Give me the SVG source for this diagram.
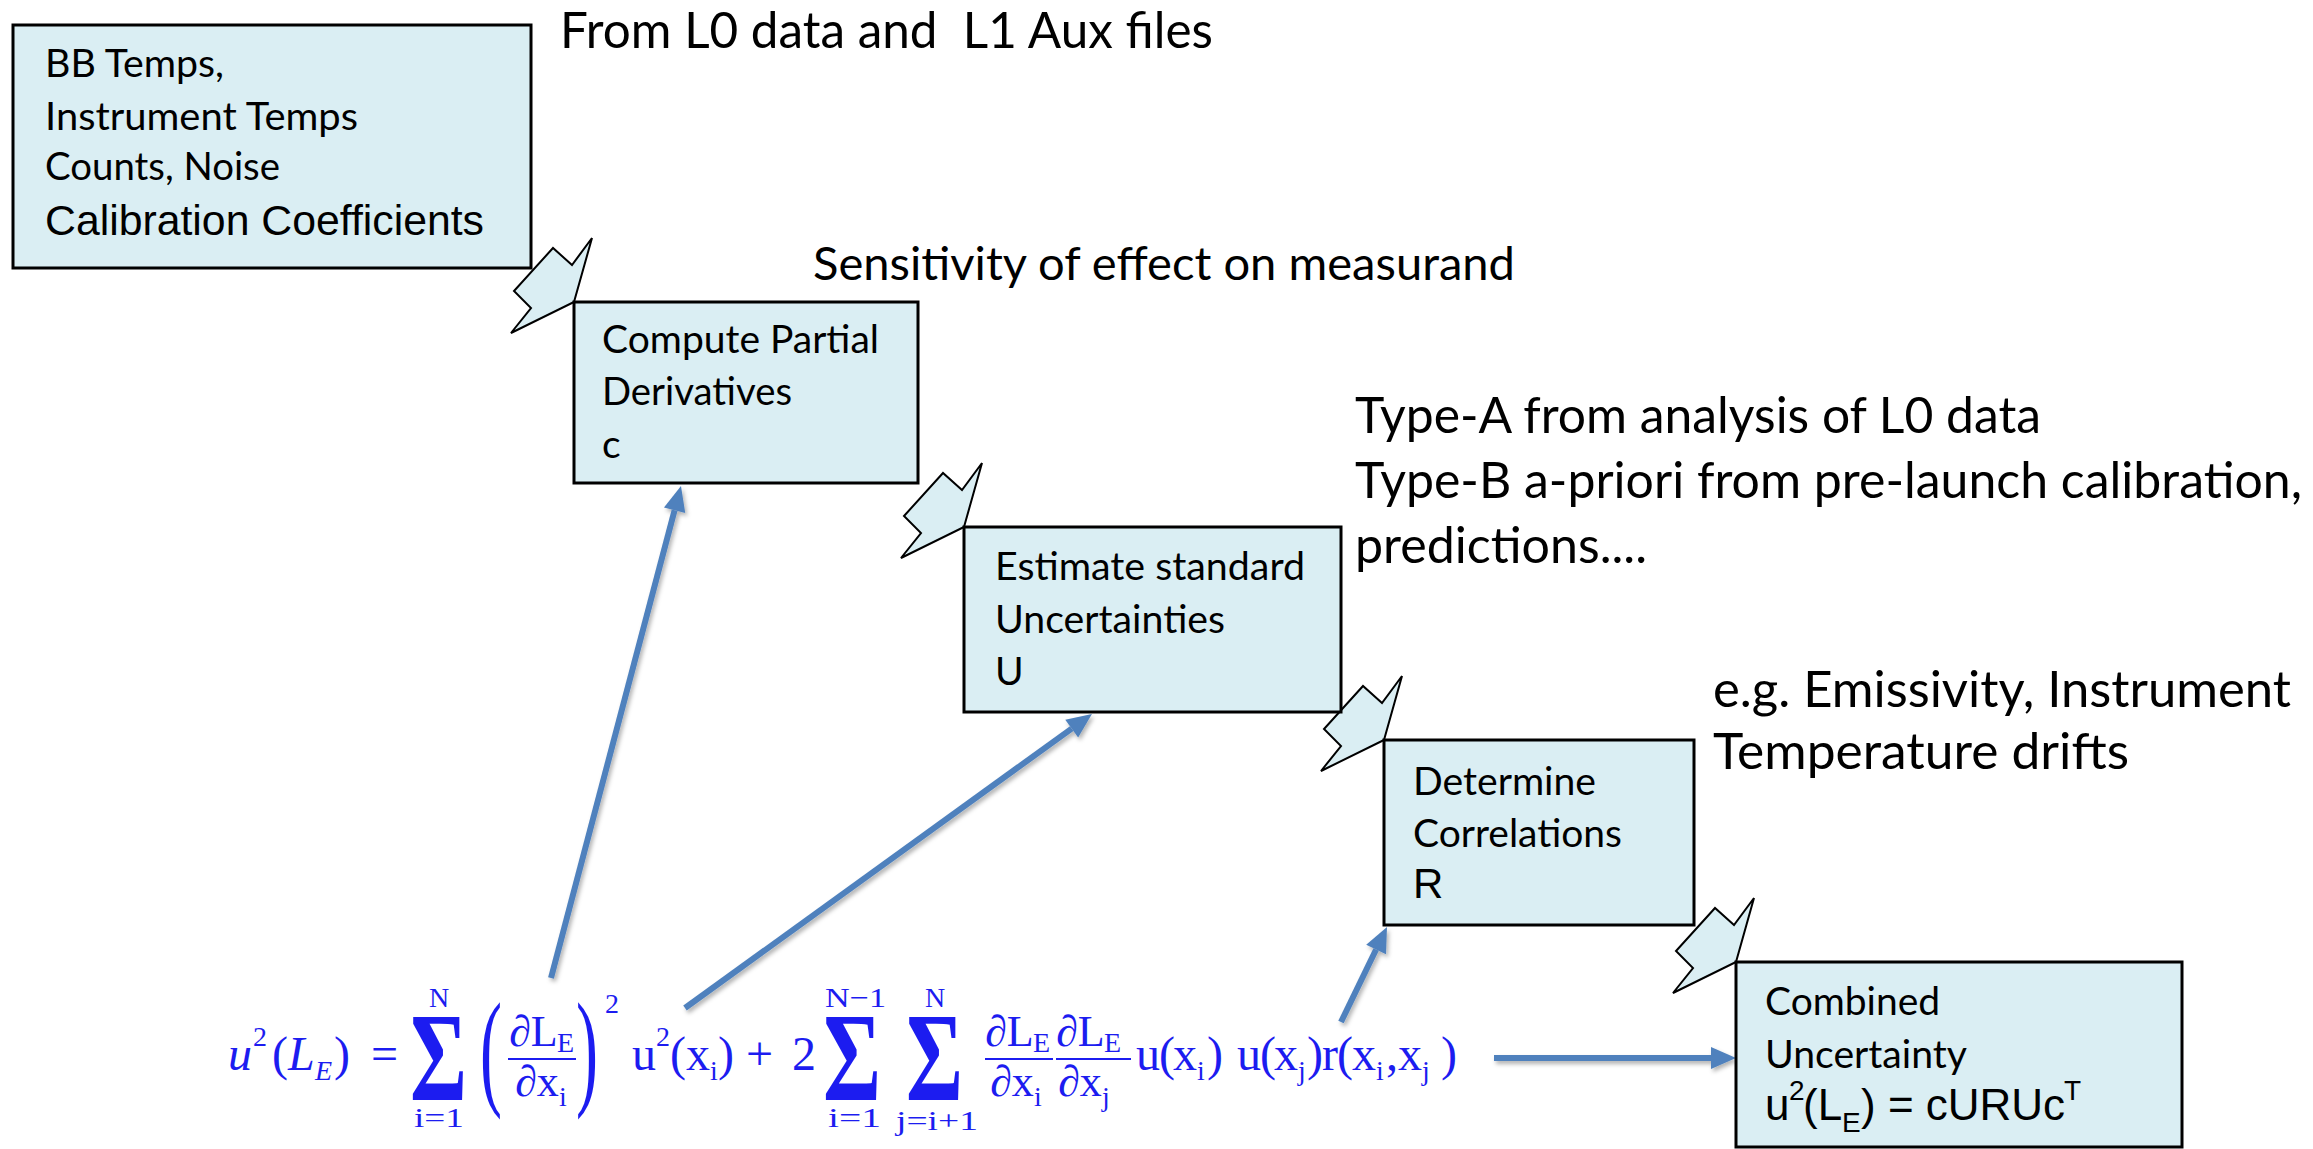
<svg xmlns="http://www.w3.org/2000/svg" xmlns:xlink="http://www.w3.org/1999/xlink" width="2313" height="1149" viewBox="0 0 2313 1149">
<defs>
<style>
.box{fill:#daeef3;stroke:#000;stroke-width:3}
.chev{fill:#daeef3;stroke:#000;stroke-width:2;stroke-linejoin:miter}
.t{font-family:Lato,"Open Sans","Liberation Sans",sans-serif;font-size:39px;fill:#000}
.ta{font-family:"Liberation Sans",Arial,sans-serif;font-size:42px;fill:#000}
.ann{font-family:Lato,"Open Sans","Liberation Sans",sans-serif;font-size:50px;fill:#000}
.m{font-family:"Liberation Serif","DejaVu Serif",serif;font-size:48px;fill:#1c1cf0}
.mi{font-style:italic}
.s{font-size:28px}
.fr{font-size:44px}
.sig{font-size:128px;font-weight:bold}
.par{font-size:129px}
.fl{stroke:#1c1cf0;stroke-width:2}
.arr{stroke:#4f81bd;stroke-width:6;fill:none;marker-end:url(#ah)}
</style>
<marker id="ah" markerUnits="userSpaceOnUse" markerWidth="26" markerHeight="22" viewBox="0 0 26 22" refX="0" refY="11" orient="auto" overflow="visible">
<path d="M0,0 L25,11 L0,22 z" fill="#4f81bd"/>
</marker>
<filter id="sh" x="-20%" y="-20%" width="140%" height="140%">
<feDropShadow dx="2" dy="3" stdDeviation="2" flood-color="#000" flood-opacity="0.3"/>
</filter>
<polygon id="chev" class="chev" points="0,0 18,-64 -2,-37 -21,-54 -60,-11 -43,6 -63,31"/>
</defs>
<rect width="2313" height="1149" fill="#fff"/>

<g id="connectors">
<use href="#chev" xlink:href="#chev" x="574" y="302"/>
<use href="#chev" xlink:href="#chev" x="964" y="527"/>
<use href="#chev" xlink:href="#chev" x="1384" y="740"/>
<use href="#chev" xlink:href="#chev" x="1736" y="962"/>
<g filter="url(#sh)">
<path class="arr" d="M551,978 L674.6,510.2"/>
<path class="arr" d="M685,1008 L1071.7,728.6"/>
<path class="arr" d="M1341,1022 L1376.1,949.5"/>
<path class="arr" d="M1494,1058 L1711,1058"/>
</g>
</g>

<g id="n-inputs">
<rect class="box" x="13" y="25" width="518" height="243"/>
<text class="t" x="45" y="77" textLength="179" lengthAdjust="spacingAndGlyphs">BB Temps,</text>
<text class="t" x="45" y="130" textLength="313" lengthAdjust="spacingAndGlyphs">Instrument Temps</text>
<text class="t" x="45" y="180" textLength="235" lengthAdjust="spacingAndGlyphs">Counts, Noise</text>
<text class="ta" x="45" y="235" textLength="439" lengthAdjust="spacingAndGlyphs">Calibration Coefficients</text>
</g>

<g id="n-partials">
<rect class="box" x="574" y="302" width="344" height="181"/>
<text class="t" x="602" y="353" textLength="277" lengthAdjust="spacingAndGlyphs">Compute Partial</text>
<text class="t" x="602" y="405" textLength="190" lengthAdjust="spacingAndGlyphs">Derivatives</text>
<text class="t" x="602" y="458">c</text>
</g>

<g id="n-uncertainties">
<rect class="box" x="964" y="527" width="377" height="185"/>
<text class="t" x="995" y="580" textLength="310" lengthAdjust="spacingAndGlyphs">Estimate standard</text>
<text class="t" x="995" y="633" textLength="230" lengthAdjust="spacingAndGlyphs">Uncertainties</text>
<text class="t" x="995" y="685">U</text>
</g>

<g id="n-correlations">
<rect class="box" x="1384" y="740" width="310" height="185"/>
<text class="t" x="1413" y="795" textLength="183" lengthAdjust="spacingAndGlyphs">Determine</text>
<text class="t" x="1413" y="847" textLength="209" lengthAdjust="spacingAndGlyphs">Correlations</text>
<text class="ta" x="1413" y="898">R</text>
</g>

<g id="n-combined">
<rect class="box" x="1736" y="962" width="446" height="185"/>
<text class="t" x="1765" y="1015" textLength="175" lengthAdjust="spacingAndGlyphs">Combined</text>
<text class="t" x="1765" y="1068" textLength="202" lengthAdjust="spacingAndGlyphs">Uncertainty</text>
<text class="ta" style="font-size:44px" y="1120"><tspan x="1765">u</tspan><tspan x="1789" y="1100" style="font-size:28px">2</tspan><tspan x="1803" y="1120">(L</tspan><tspan x="1842" y="1132" style="font-size:28px">E</tspan><tspan x="1861" y="1120">) = cURUc</tspan><tspan x="2064" y="1100" style="font-size:28px">T</tspan></text>
</g>

<g id="annotations">
<text class="ann" x="560" y="48" xml:space="preserve" textLength="653" lengthAdjust="spacingAndGlyphs">From L0 data and  L1 Aux files</text>
<text class="ann" style="font-size:47px" x="813" y="280" textLength="702" lengthAdjust="spacingAndGlyphs">Sensitivity of effect on measurand</text>
<text class="ann" x="1355" y="433" textLength="686" lengthAdjust="spacingAndGlyphs">Type-A from analysis of L0 data</text>
<text class="ann" x="1355" y="498" textLength="947" lengthAdjust="spacingAndGlyphs">Type-B a-priori from pre-launch calibration,</text>
<text class="ann" x="1355" y="563" textLength="292" lengthAdjust="spacingAndGlyphs">predictions....</text>
<text class="ann" x="1713" y="707" textLength="578" lengthAdjust="spacingAndGlyphs">e.g. Emissivity, Instrument</text>
<text class="ann" x="1713" y="769" textLength="416" lengthAdjust="spacingAndGlyphs">Temperature drifts</text>
</g>

<g id="formula">
<line class="fl" x1="508" y1="1059" x2="576" y2="1059"/>
<line class="fl" x1="985" y1="1059" x2="1053" y2="1059"/>
<line class="fl" x1="1056" y1="1059" x2="1131" y2="1059"/>
<text class="m"><tspan class="mi" x="228" y="1070">u</tspan><tspan class="s" x="253" y="1046">2</tspan><tspan x="272" y="1070">(</tspan><tspan class="mi" x="288" y="1070">L</tspan><tspan class="mi s" x="315" y="1080">E</tspan><tspan x="334" y="1070">)</tspan><tspan x="371" y="1070">=</tspan><tspan class="sig" x="410" y="1100" textLength="57" lengthAdjust="spacingAndGlyphs">Σ</tspan><tspan class="s" x="429" y="1007">N</tspan><tspan class="s" x="414" y="1127" textLength="50" lengthAdjust="spacingAndGlyphs">i=1</tspan><tspan class="par" x="480" y="1092" textLength="22" lengthAdjust="spacingAndGlyphs">(</tspan><tspan class="fr" x="509" y="1046">∂L</tspan><tspan class="s" x="557" y="1052">E</tspan><tspan class="fr" x="515" y="1096">∂x</tspan><tspan class="s" x="559" y="1106">i</tspan><tspan class="par" x="576" y="1092" textLength="22" lengthAdjust="spacingAndGlyphs">)</tspan><tspan class="s" x="605" y="1013">2</tspan><tspan x="632" y="1070">u</tspan><tspan class="s" x="656" y="1046">2</tspan><tspan x="670" y="1070">(</tspan><tspan x="686" y="1070">x</tspan><tspan class="s" x="710" y="1080">i</tspan><tspan x="718" y="1070">)</tspan><tspan x="746" y="1070">+</tspan><tspan x="792" y="1070">2</tspan><tspan class="sig" x="823" y="1100" textLength="58" lengthAdjust="spacingAndGlyphs">Σ</tspan><tspan class="s" x="825" y="1007" textLength="61" lengthAdjust="spacingAndGlyphs">N−1</tspan><tspan class="s" x="828" y="1127" textLength="53" lengthAdjust="spacingAndGlyphs">i=1</tspan><tspan class="sig" x="906" y="1100" textLength="57" lengthAdjust="spacingAndGlyphs">Σ</tspan><tspan class="s" x="925" y="1007">N</tspan><tspan class="s" x="896" y="1130" textLength="82" lengthAdjust="spacingAndGlyphs">j=i+1</tspan><tspan class="fr" x="985" y="1046">∂L</tspan><tspan class="s" x="1033" y="1052">E</tspan><tspan class="fr" x="990" y="1096">∂x</tspan><tspan class="s" x="1034" y="1106">i</tspan><tspan class="fr" x="1056" y="1046">∂L</tspan><tspan class="s" x="1104" y="1052">E</tspan><tspan class="fr" x="1058" y="1096">∂x</tspan><tspan class="s" x="1102" y="1106">j</tspan><tspan x="1136" y="1070">u</tspan><tspan x="1159" y="1070">(</tspan><tspan x="1173" y="1070">x</tspan><tspan class="s" x="1197" y="1080">i</tspan><tspan x="1207" y="1070">)</tspan><tspan x="1237" y="1070">u</tspan><tspan x="1260" y="1070">(</tspan><tspan x="1274" y="1070">x</tspan><tspan class="s" x="1298" y="1080">j</tspan><tspan x="1307" y="1070">)</tspan><tspan x="1322" y="1070">r</tspan><tspan x="1337" y="1070">(</tspan><tspan x="1352" y="1070">x</tspan><tspan class="s" x="1376" y="1080">i</tspan><tspan x="1386" y="1070">,</tspan><tspan x="1398" y="1070">x</tspan><tspan class="s" x="1422" y="1080">j</tspan><tspan x="1441" y="1070">)</tspan></text>
</g>
</svg>
